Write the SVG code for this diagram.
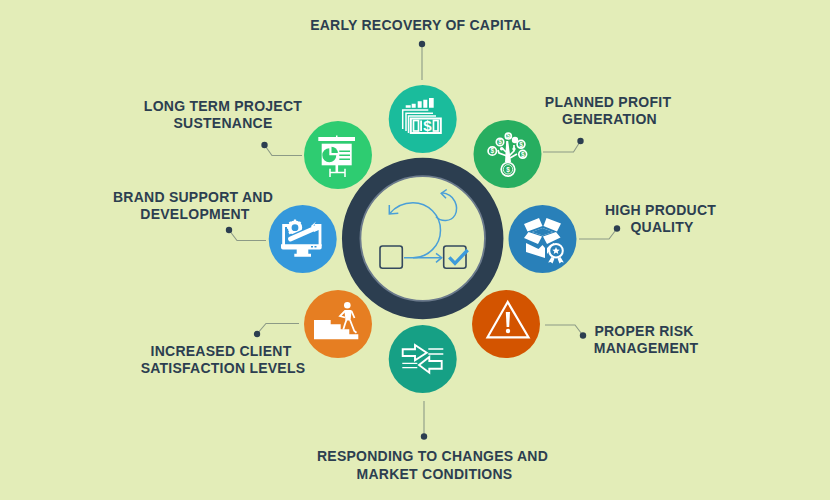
<svg xmlns="http://www.w3.org/2000/svg" width="830" height="500" viewBox="0 0 830 500">
<defs>
<style>
.lbl{font:bold 14px "Liberation Sans",Arial,sans-serif;fill:#2c3e50;text-anchor:middle;letter-spacing:.25px}
.ln{fill:none;stroke:#8c9a86;stroke-width:1.1}
.dot{fill:#2c3e50}
.w{fill:#fff}
.ws{fill:none;stroke:#fff;stroke-width:2}
.b{fill:none;stroke:#4a9fd8;stroke-width:1.5}
.bx{fill:none;stroke:#34495e;stroke-width:1.6}
.coin{fill:#27ae60;stroke:#fff;stroke-width:1.7}
.cs{font:bold 6.500px "Liberation Sans",sans-serif;fill:#fff;text-anchor:middle}
</style>
</defs>
<rect width="830" height="500" fill="#e3edb8"/>
<g id="connectors">
<path class="ln" d="M422 44V80"/><circle class="dot" cx="422" cy="44" r="3.200"/>
<path class="ln" d="M543 152H573.500L580.500 141"/><circle class="dot" cx="580.500" cy="141" r="3.200"/>
<path class="ln" d="M264.500 145L272 155.500H302"/><circle class="dot" cx="264.500" cy="145" r="3.200"/>
<path class="ln" d="M229 230L237 240.500H266"/><circle class="dot" cx="229" cy="230" r="3.200"/>
<path class="ln" d="M579 239H609L617 228.500"/><circle class="dot" cx="617" cy="228.500" r="3.200"/>
<path class="ln" d="M545 325H575L583 335.500"/><circle class="dot" cx="583" cy="335.500" r="3.200"/>
<path class="ln" d="M257 334L266 323.500H299"/><circle class="dot" cx="257" cy="334" r="3.200"/>
<path class="ln" d="M424 401V436"/><circle class="dot" cx="424" cy="436.500" r="3.200"/>
</g>
<g id="hub">
<circle cx="422.700" cy="238.500" r="71.500" fill="none" stroke="#2c3e50" stroke-width="18.500"/>
<circle cx="422.700" cy="238.500" r="62.300" fill="none" stroke="#6b7a8c" stroke-width="1.800"/>
<rect x="380" y="246" width="22.300" height="22.300" rx="2.500" class="bx"/>
<rect x="443.700" y="246" width="22.300" height="22.300" rx="2.500" class="bx"/>
<path class="b" d="M404 257.700H441.500"/>
<path class="b" d="M436 253.300L441.700 257.700L436 262.300"/>
<path class="b" d="M413 257.700A27.500 27.500 0 0 0 413 202.700C404 202.700 395 207 389.500 213.800"/>
<path class="b" d="M389.300 205V214L398.300 213.300"/>
<path class="b" d="M436 216.700C441 222 451 222 455 215C459 207 455 194 441.700 192.800"/>
<path class="b" d="M446.700 189.500L441.200 193.300L446 198.300"/>
<path d="M449.300 257.300L455 263.300L467.700 250" fill="none" stroke="#3d9bdc" stroke-width="3.400"/>
</g>
<g id="node-early-recovery">
<circle cx="422.700" cy="119" r="34" fill="#1abc9c"/>
<path class="w" d="M405.700 105.300h5v2.500h-5zM411.700 103.700h4v4.100h-4zM417.700 101.300h4v6.500h-4zM423.300 99.700h4v8.100h-4zM429 98h4.700v9.800H429z"/>
<path class="ws" style="stroke-width:1.500" d="M402.700 129V110H428.300M406 131V113.300H433M408.500 133V116H436"/>
<rect x="410.800" y="118.500" width="30" height="14.500" fill="#1abc9c" stroke="#fff" stroke-width="2"/>
<rect x="413.500" y="120.500" width="5" height="10.500" fill="none" stroke="#fff" stroke-width="1.700"/>
<rect x="433.500" y="120.500" width="4.500" height="10.500" fill="none" stroke="#fff" stroke-width="1.700"/>
<rect class="w" x="420.200" y="120.500" width="1.800" height="10.500"/>
<text x="427.300" y="131.300" style="font:bold 15px 'Liberation Sans',sans-serif;fill:#fff;text-anchor:middle">$</text>
</g>
<g id="node-planned-profit">
<circle cx="507.500" cy="154" r="34" fill="#27ae60"/>
<path class="w" d="M505 162L506.200 141H508.200L511 162Z"/>
<path class="ws" style="stroke-width:1.700" d="M507 156L499 153L498 150M506 152L502 148M509 156L514 151L514 145M510 158L517 154"/>
<circle class="w" cx="515" cy="140" r="3.200"/><circle class="w" cx="501.700" cy="148.700" r="1.800"/><circle class="w" cx="514" cy="149" r="1.700"/>
<circle class="coin" cx="508" cy="169.300" r="6.800"/><circle cx="508" cy="169.300" r="4.700" fill="none" stroke="#fff" stroke-width=".8"/>
<circle class="coin" cx="500" cy="142" r="3.700"/><circle class="coin" cx="508.300" cy="136" r="3"/><circle class="coin" cx="521" cy="144.300" r="3.900"/><circle class="coin" cx="492.300" cy="151" r="4.200"/><circle class="coin" cx="522.700" cy="154.300" r="3.900"/>
<text class="cs" x="500" y="144.300">$</text><text class="cs" x="508.300" y="138.300">$</text><text class="cs" x="521" y="146.600">$</text><text class="cs" x="492.300" y="153.300">$</text><text class="cs" x="522.700" y="156.600">$</text><text class="cs" x="508" y="171.700">$</text>
</g>
<g id="node-high-quality">
<circle cx="542.500" cy="239" r="34" fill="#2980b9"/>
<path class="w" d="M524 224L539 218L542.500 226L527.500 231.500ZM543.500 226L546.500 218L561 223.500L557 231.500ZM524 238L528.500 232L542 236.500L538 244ZM543 236.500L556 232L560.500 237.500L547 244ZM526 243L538.500 249L542.500 245L545 248V258L526 252ZM547 248L550 245L554 243V245L547 254Z"/>
<path class="w" d="M542.500 228L532 232L542.500 235.500L553 232Z"/>
<path d="M542.500 228L532 232L542.500 235.500L553 232Z" fill="#2980b9"/>
<circle cx="556" cy="250.700" r="6.800" fill="#2980b9" stroke="#fff" stroke-width="2"/>
<path class="w" d="M556 247L557.100 249.500L559.700 249.700L557.700 251.400L558.300 254L556 252.600L553.700 254L554.300 251.400L552.300 249.700L554.900 249.500Z"/>
<path class="w" d="M551.500 257L554.500 258.500L552.500 263.500L550.700 262L548.200 262.500ZM557.500 258.500L560.500 257L563.800 262.500L561.300 262L559.500 263.500Z"/>
</g>
<g id="node-risk">
<circle cx="506" cy="324" r="34" fill="#d35400"/>
<path d="M507.700 302L487.500 337.300H528.500Z" fill="none" stroke="#fff" stroke-width="2.200"/>
<path class="w" d="M505.800 312H510L509.200 327H506.600Z"/><circle class="w" cx="508" cy="331" r="2.200"/>
</g>
<g id="node-responding">
<circle cx="422.700" cy="359" r="34" fill="#16a085"/>
<path class="ws" style="stroke-width:1.900" d="M402.700 349.300H415V345L426.700 352.700L415 360.300V356H402.700ZM441.700 361H429.300V357L419 365L429.300 372.700V368.700H441.700Z"/>
<path class="ws" style="stroke-width:1.300" d="M428.300 349H443.300M428.300 354H443.300M402.300 363.300H417.300M402.300 367.700H417.300"/>
</g>
<g id="node-client">
<circle cx="338" cy="324" r="34" fill="#e67e22"/>
<path class="w" d="M314 320H330.700V324.300H340.700V329.300H349.300V334.300H358.300V339.300H314Z"/>
<circle class="w" cx="347.300" cy="305.300" r="3.300"/>
<path class="w" d="M344.300 310H351.700L350.500 320.500H345.500Z"/>
<path class="ws" style="stroke-width:1.800" d="M345 311L340 316L345 317.500M351.500 311L354.500 318M346.800 319L345 324L343.300 329.500M350 320L354.300 331L356.500 332.800"/>
</g>
<g id="node-brand">
<circle cx="302.700" cy="239" r="34" fill="#3498db"/>
<path class="ws" style="stroke-width:2.800" d="M290 225.500H283.600V246M320 246V225.500H314"/>
<path class="w" d="M281 244.300H321.700V247.500A2 2 0 0 1 319.700 249.500H283A2 2 0 0 1 281 247.500ZM296.700 249H308.300V253.700H311V256.700H294.300V253.700H296.700Z"/>
<circle cx="295" cy="227.700" r="5.300" fill="none" stroke="#fff" stroke-width="3.800"/>
<path class="ws" style="stroke-width:2.200" d="M295 219.500V222M287 227.700H289.500M300.500 222L299 223.500M289.500 222L291 223.500M289 233.500L291 232M295 236V234"/>
<path d="M290 239.300L316 227.800" stroke="#3498db" stroke-width="8"/>
<path d="M290.500 239L316 227.800" stroke="#fff" stroke-width="4.800" stroke-linecap="round"/>
<path class="w" d="M311 226L316 221.500L313.500 225.500L317.500 226.500L320.700 224L320 229.500L314 232Z"/>
<path d="M311 246.700H313M314.500 246.700H316.500" stroke="#3498db" stroke-width="1.400"/>
</g>
<g id="node-long-term">
<circle cx="338" cy="155" r="34" fill="#2ecc71"/>
<rect class="w" x="318.300" y="137" width="36.700" height="4"/>
<rect class="w" x="336" y="135.500" width="1.500" height="2"/>
<rect class="w" x="321.700" y="143.700" width="30" height="21.600"/>
<rect class="w" x="335.500" y="165" width="2.600" height="8"/>
<path class="ws" style="stroke-width:1.500" d="M330 172.500H345M330 168.700V177M345 168.700V177"/>
<path d="M329.300 148.300V155.300H336.300A7 7 0 1 1 329.300 148.300Z" fill="#2ecc71"/>
<path d="M331.500 146.800V153H337.800A6.300 6.300 0 0 0 331.500 146.800Z" fill="#2ecc71"/>
<path d="M339.300 151.300H350M339.300 155.300H350M339.300 159.300H350" stroke="#2ecc71" stroke-width="1.400"/>
</g>
<g id="labels">
<text class="lbl" x="420.500" y="30">EARLY RECOVERY OF CAPITAL</text>
<text class="lbl" x="608" y="107">PLANNED PROFIT</text><text class="lbl" x="609.500" y="124">GENERATION</text>
<text class="lbl" x="223" y="111">LONG TERM PROJECT</text><text class="lbl" x="223" y="128">SUSTENANCE</text>
<text class="lbl" x="193" y="202">BRAND SUPPORT AND</text><text class="lbl" x="195" y="219">DEVELOPMENT</text>
<text class="lbl" x="660.500" y="215">HIGH PRODUCT</text><text class="lbl" x="662" y="232">QUALITY</text>
<text class="lbl" x="644" y="336">PROPER RISK</text><text class="lbl" x="646" y="353">MANAGEMENT</text>
<text class="lbl" x="221" y="356">INCREASED CLIENT</text><text class="lbl" x="223" y="373">SATISFACTION LEVELS</text>
<text class="lbl" x="432.500" y="461">RESPONDING TO CHANGES AND</text><text class="lbl" x="434.500" y="479">MARKET CONDITIONS</text>
</g>
</svg>
